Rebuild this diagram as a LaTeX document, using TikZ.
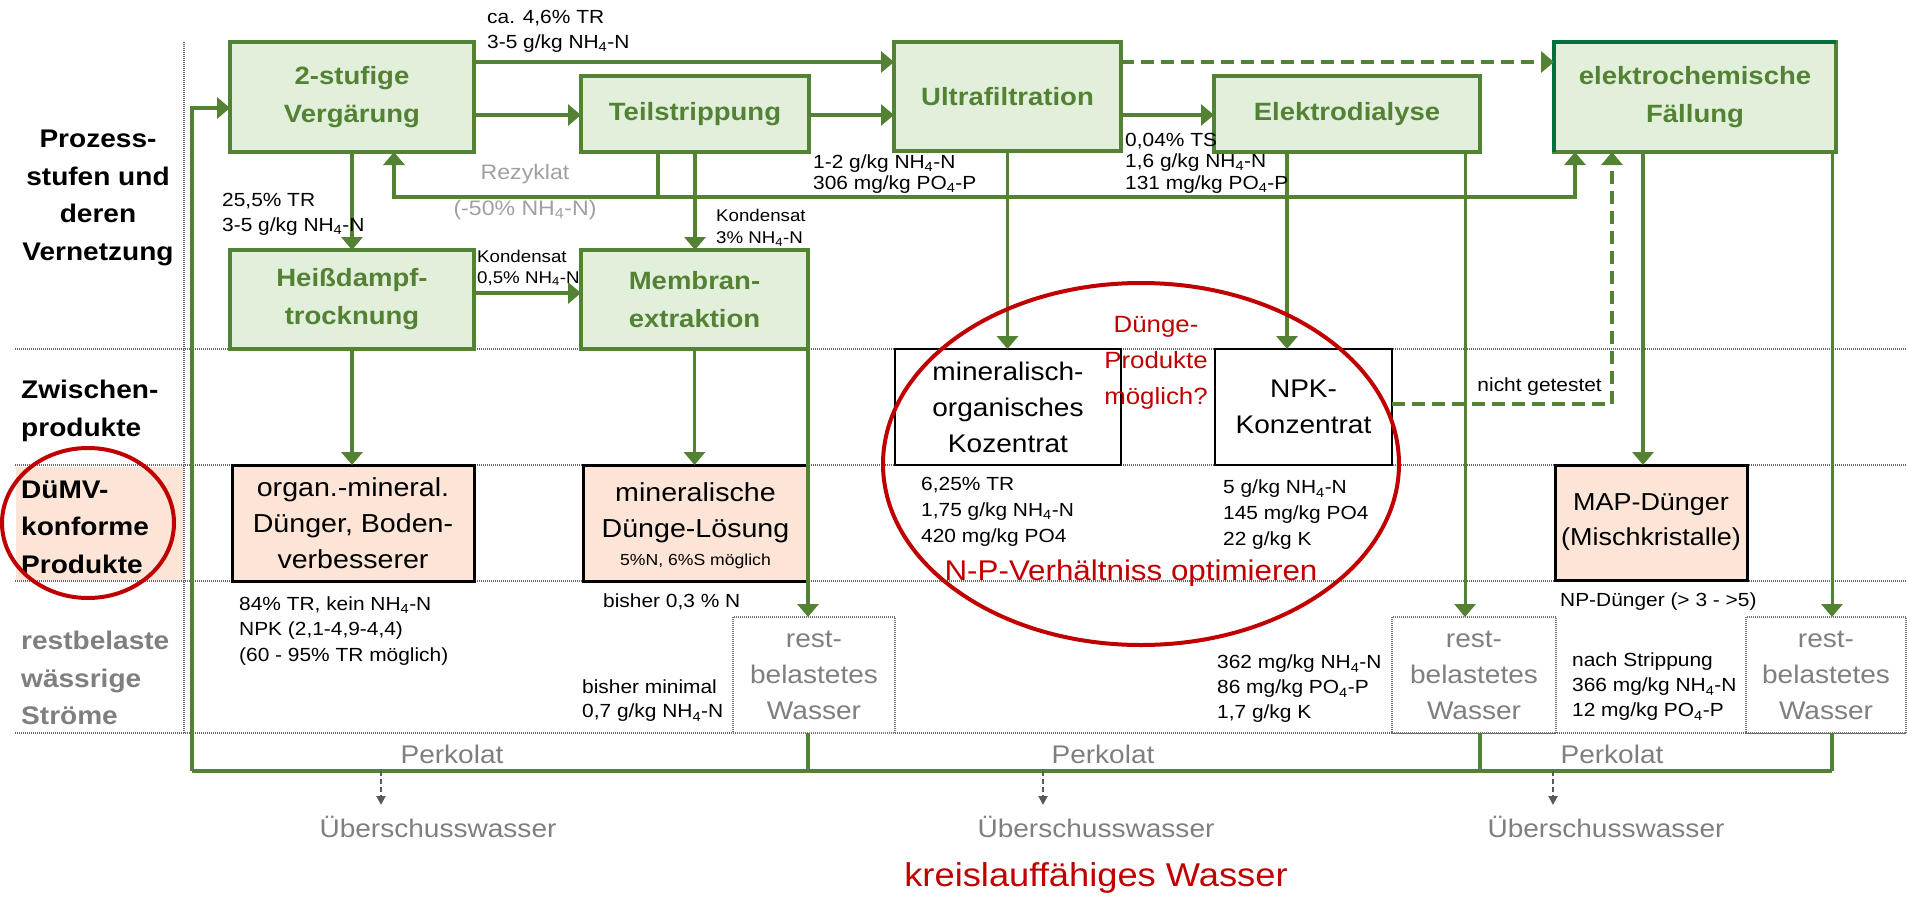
\documentclass[tikz,border=0pt]{standalone}
\usepackage{fontspec}
\setmainfont{Liberation Sans}[FakeStretch=1.1]
\usetikzlibrary{arrows.meta,calc}
\definecolor{grn}{RGB}{84,130,53}
\definecolor{lgrn}{RGB}{226,239,218}
\definecolor{dgrn}{RGB}{0,112,60}
\definecolor{pnk}{RGB}{252,228,214}
\definecolor{rd}{RGB}{192,0,0}
\definecolor{gtxt}{RGB}{127,127,127}
\definecolor{ltg}{RGB}{160,160,160}
\definecolor{dgray}{RGB}{89,89,89}
\newcommand\fsz[2]{\fontsize{#1pt}{#2pt}\selectfont}
\newcommand\nhn{NH\textsubscript{4}-N}
\newcommand\pop{PO\textsubscript{4}-P}
\tikzset{
  gbox/.style={draw=grn, fill=lgrn, line width=3.5pt, inner sep=0pt, outer sep=0pt, text=grn, font=\bfseries\fsz{25}{38}, align=center},
  pbox/.style={draw=black, fill=pnk, line width=3pt, inner sep=0pt, outer sep=0pt, font=\fsz{26}{36}, align=center},
  wbox/.style={draw=black, fill=white, line width=2.5pt, inner sep=0pt, outer sep=0pt, font=\fsz{25.5}{36}, align=center},
  rbox/.style={draw=black!55, dash pattern=on 1pt off 1pt, fill=white, line width=1.5pt, inner sep=0pt, outer sep=0pt, text=gtxt, font=\fsz{25.5}{36}, align=center},
  gl/.style={draw=grn, line width=3.5pt},
  arr/.style={gl, -{Triangle[length=13pt,width=21pt]}},
  darr/.style={arr, dash pattern=on 13pt off 7pt},
  garr/.style={draw=dgray, line width=2pt, dash pattern=on 5pt off 3pt, -{Triangle[length=9pt,width=9pt]}},
  rowsep/.style={draw=black!60, line width=2pt, dash pattern=on 1pt off 1pt},
  ann/.style={font=\fsz{19}{25}, align=left, inner sep=0pt, anchor=west},
  lab/.style={font=\bfseries\fsz{25.5}{37.5}, inner sep=0pt},
  gtx/.style={text=gtxt, font=\fsz{25.5}{30}, inner sep=0pt},
}
\begin{document}
\begin{tikzpicture}[x=1pt,y=-1pt]
\useasboundingbox (0,0) rectangle (1907,897);

% row separators
\draw[rowsep] (15,349) -- (1907,349);
\draw[rowsep] (15,465) -- (1907,465);
\draw[rowsep] (15,581) -- (1907,581);
\draw[rowsep] (15,733) -- (1907,733);
\fill[pnk] (16,467) rectangle (183,580);
\draw[rowsep, line width=1.5pt] (184,42) -- (184,733);

% helper coordinates
\coordinate (yA) at (0,62);
\coordinate (yB) at (0,115);
\coordinate (yC) at (0,197);
\coordinate (yD) at (0,293);
\coordinate (yE) at (0,404);
\coordinate (yF) at (0,771);
\coordinate (yH) at (0,108);
\coordinate (xL) at (192,0);
\coordinate (xR1) at (394,0);
\coordinate (xT1) at (658,0);
\coordinate (xE1) at (1287,0);
\coordinate (xE2) at (1465,0);
\coordinate (xR2) at (1480,0);
\coordinate (xF0) at (1575,0);
\coordinate (xF1) at (1612,0);
\coordinate (xF2) at (1643,0);
\coordinate (xF3) at (1832,0);
\coordinate (d1) at (381,805);
\coordinate (d2) at (1043,805);
\coordinate (d3) at (1553,805);

% boxes
\node[gbox, minimum width=244pt, minimum height=110pt] (verg) at (352,97) {2-stufige\\Vergärung};
\node[gbox, minimum width=228pt, minimum height=76pt] (teil) at (695,114) {Teilstrippung};
\node[gbox, minimum width=227pt, minimum height=109pt] (ultra) at (1007.5,96.5) {Ultrafiltration};
\node[gbox, minimum width=266pt, minimum height=76pt] (elektro) at (1347,114) {Elektrodialyse};
\node[gbox, minimum width=282pt, minimum height=110pt] (faell) at (1695,97) {elektrochemische\\Fällung};
\draw[dgrn, line width=3.5pt] (faell.south west) -- (faell.north west) -- (faell.north east);
\node[gbox, minimum width=244pt, minimum height=99pt] (heiss) at (352,299.5) {Heißdampf-\\trocknung};
\node[gbox, minimum width=227pt, minimum height=99pt] (membran) at (694.5,299.5) {Membran-\\extraktion};

\node[wbox, minimum width=226pt, minimum height=116pt] (koz) at (1008,407) {mineralisch-\\organisches\\Kozentrat};
\node[wbox, minimum width=177pt, minimum height=116pt] (npk) at (1303.5,407) {NPK-\\Konzentrat};

\node[pbox, minimum width=242pt, minimum height=116pt] (organ) at (353,523) {organ.-mineral.\\Dünger, Boden-\\verbesserer};
\node[pbox, minimum width=225pt, minimum height=116pt, text depth=0pt] (mineral) at (695.5,523) {};
\node[font=\fsz{26}{36}, align=center, inner sep=0pt] (minl) at (695.5,513) {mineralische\\Dünge-Lösung};
\node[font=\fsz{16}{18}, inner sep=0pt] (minsub) at (695.5,561) {5\%N, 6\%S möglich};
\node[pbox, font=\fsz{24.5}{35}, minimum width=192pt, minimum height=115pt] (map) at (1651,522.5) {MAP-Dünger\\(Mischkristalle)};

\node[rbox, minimum width=162pt, minimum height=116pt] (rest1) at (814,675) {rest-\\belastetes\\Wasser};
\node[rbox, minimum width=164pt, minimum height=116pt] (rest2) at (1474,675) {rest-\\belastetes\\Wasser};
\node[rbox, minimum width=160pt, minimum height=116pt] (rest3) at (1826,675) {rest-\\belastetes\\Wasser};

% row labels
\node[lab, align=center] (l1) at (98,198) {Prozess-\\stufen und\\deren\\Vernetzung};
\node[lab, align=left, anchor=west] (l2) at (21,411) {Zwischen-\\produkte};
\node[lab, align=left, anchor=west] (l3) at (21,527) {DüMV-\\konforme\\Produkte};
\node[lab, align=left, anchor=west, text=gtxt] (l4) at (21,678) {restbelaste\\wässrige\\Ströme};

% green connectors
\draw[arr] (verg.east |- yA) -- (ultra.west |- yA);
\draw[darr] (ultra.east |- yA) -- (faell.west |- yA);
\draw[arr] (verg.east |- yB) -- (teil.west |- yB);
\draw[arr] (teil.east |- yB) -- (ultra.west |- yB);
\draw[arr] (ultra.east |- yB) -- (elektro.west |- yB);
\draw[arr] (verg.south) -- (verg.south |- heiss.north);
\draw[arr] (heiss.east |- yD) -- (membran.west |- yD);
\draw[arr] (teil.south) -- (teil.south |- membran.north);
\draw[gl] (teil.south -| xT1) -- (xT1 |- yC);
\draw[arr, line width=4.5pt] (xT1 |- yC) -| (verg.south -| xR1);
\draw[arr, line width=4.5pt] (xT1 |- yC) -| (faell.south -| xF0);
\draw[arr] (ultra.south) -- (ultra.south |- koz.north);
\draw[arr] (elektro.south -| xE1) -- (npk.north -| xE1);
\draw[arr] (heiss.south) -- (heiss.south |- organ.north);
\draw[arr] (membran.south) -- (membran.south |- mineral.north);
\draw[arr] (faell.south -| xF2) -- (map.north -| xF2);
\draw[darr] (npk.east |- yE) -| (faell.south -| xF1);
\draw[arr] (membran.south east) -- (membran.south east |- rest1.north);
\draw[arr, line width=3pt] (elektro.south -| xE2) -- (rest2.north -| xE2);
\draw[arr, line width=3pt] (faell.south -| xF3) -- (rest3.north -| xF3);

% perkolat loop
\draw[gl, line width=4.5pt] (xL |- yF) -- (xF3 |- yF);
\draw[arr] (xL |- yF) |- (verg.west |- yH);
\draw[gl] (rest1.south -| membran.east) -- (membran.east |- yF);
\draw[gl] (rest2.south -| xR2) -- (xR2 |- yF);
\draw[gl] (rest3.south -| xF3) -- (xF3 |- yF);

\draw[garr] (d1 |- yF) -- (d1);
\draw[garr] (d2 |- yF) -- (d2);
\draw[garr] (d3 |- yF) -- (d3);

% annotations
\node[ann] (a1) at (487,31) {ca. 4,6\% TR\\3-5 g/kg \nhn};
\node[ann] (a2) at (222,214) {25,5\% TR\\3-5 g/kg \nhn};
\node[ann, font=\fsz{17}{21}] (a3) at (477,268) {Kondensat\\0,5\% \nhn};
\node[ann, font=\fsz{19}{21}] (a4) at (813,174) {1-2 g/kg \nhn\\306 mg/kg \pop};
\node[ann, font=\fsz{19}{21.5}] (a5) at (1125,163) {0,04\% TS\\1,6 g/kg \nhn\\131 mg/kg \pop};
\node[ann, font=\fsz{17}{22}] (a6) at (716,228) {Kondensat\\3\% \nhn};
\node[ann, font=\fsz{19}{26}] (a7) at (921,512) {6,25\% TR\\1,75 g/kg \nhn\\420 mg/kg PO4};
\node[ann, font=\fsz{19}{26}] (a8) at (1223,515) {5 g/kg \nhn\\145 mg/kg PO4\\22 g/kg K};
\node[ann, font=\fsz{19}{25.5}] (a9) at (239,631) {84\% TR, kein \nhn\\NPK (2,1-4,9-4,4)\\(60 - 95\% TR möglich)};
\node[ann] (a10) at (603,602) {bisher 0,3 \% N};
\node[ann, font=\fsz{19}{24}] (a11) at (582,701) {bisher minimal\\0,7 g/kg \nhn};
\node[ann] (a12) at (1217,689) {362 mg/kg \nhn\\86 mg/kg \pop\\1,7 g/kg K};
\node[ann] (a13) at (1560,602) {NP-Dünger (> 3 - >5)};
\node[ann] (a14) at (1572,687) {nach Strippung\\366 mg/kg \nhn\\12 mg/kg \pop};
\node[ann, anchor=east] (a15) at (1602,387) {nicht getestet};

\node[inner sep=0pt, text=ltg, font=\fsz{21}{36}, align=center] (rez) at (525,192) {Rezyklat\\(-50\% \nhn)};

% water labels
\node[gtx] (p1) at (452,754) {Perkolat};
\node[gtx] (p2) at (1103,754) {Perkolat};
\node[gtx] (p3) at (1612,754) {Perkolat};
\node[gtx] (u1) at (438,827) {Überschusswasser};
\node[gtx] (u2) at (1096,827) {Überschusswasser};
\node[gtx] (u3) at (1606,827) {Überschusswasser};
\node[inner sep=0pt, text=rd, font=\fsz{33}{36}] (kw) at (1096,878) {kreislauffähiges Wasser};

% red highlights
\draw[rd, line width=4pt] (1141,464) ellipse [x radius=258pt, y radius=181pt];
\draw[rd, line width=4pt] (88,523) ellipse [x radius=86pt, y radius=75pt];
\node[inner sep=0pt, text=rd, font=\fsz{23.5}{36}, align=center] (dp) at (1156,363) {Dünge-\\Produkte\\möglich?};
\node[inner sep=0pt, text=rd, font=\fsz{28.5}{30}] (np) at (1131,573) {N-P-Verhältniss optimieren};
\end{tikzpicture}
\end{document}
